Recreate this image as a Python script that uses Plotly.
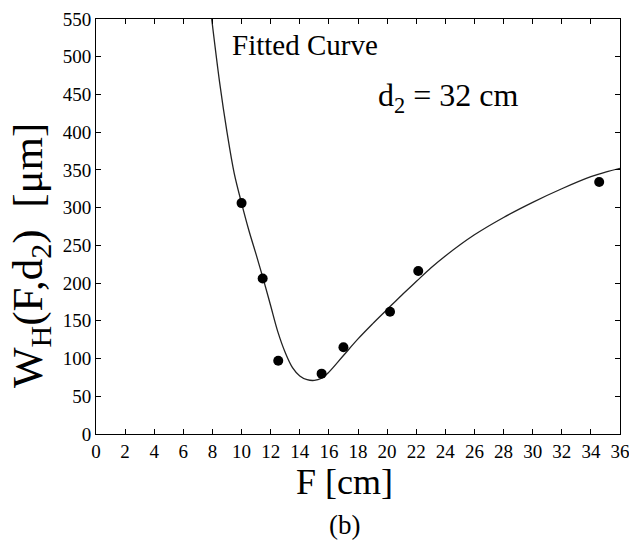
import plotly.graph_objects as go

# measured data points
F_pts = [10.0, 11.45, 12.52, 15.5, 17.0, 20.2, 22.14, 34.57]
W_pts = [306, 206, 97, 80, 115, 162, 216, 334]

# fitted curve
F_fit = [7.95, 8.5, 9.0, 9.5, 10.0, 10.5, 11.0, 11.5, 12.0, 12.5, 13.0, 13.5, 14.0,
         14.5, 15.0, 15.5, 16.0, 17.0, 18.0, 19.0, 20.0, 21.0, 22.0, 23.0, 24.0,
         26.0, 28.0, 30.0, 32.0, 34.0, 35.0, 36.0]
W_fit = [550, 465, 400, 345, 306, 270, 238, 205, 170, 135, 108, 88, 77,
         72, 71, 74, 82, 104, 126, 146, 165, 184, 202, 220, 236,
         264, 287, 307, 325, 341, 347, 352]

x_ticks = list(range(0, 37, 2))
y_ticks = list(range(0, 551, 50))

FONT = "Liberation Serif"

fig = go.Figure()
fig.add_trace(go.Scatter(x=F_fit, y=W_fit, mode="lines", line=dict(color="#222", width=1.3, shape="spline"),
                         showlegend=False, hoverinfo="skip"))
fig.add_trace(go.Scatter(x=F_pts, y=W_pts, mode="markers", marker=dict(color="black", size=10),
                         showlegend=False))

axis_common = dict(showgrid=False, zeroline=False, showline=True, linecolor="black", linewidth=1,
                   mirror="ticks", ticks="inside", ticklen=5, tickcolor="black", automargin=False,
                   ticklabeloverflow="allow",
                   tickfont=dict(family=FONT, size=19, color="black"))
fig.update_xaxes(range=[0, 36], tickvals=x_ticks, ticktext=[str(v) for v in x_ticks], **axis_common)
fig.update_yaxes(range=[0, 550], tickvals=y_ticks, ticktext=[str(v) for v in y_ticks], **axis_common)

fig.update_layout(
    width=629, height=540,
    margin=dict(l=96, r=9, t=19, b=106),
    plot_bgcolor="white", paper_bgcolor="white",
    font=dict(family=FONT, color="black"),
    annotations=[
        dict(text="Fitted Curve", x=0.256, y=0.937, xref="paper", yref="paper", showarrow=False,
             xanchor="left", yanchor="middle", font=dict(size=29)),
        dict(text="d<sub>2</sub> = 32 cm", x=0.535, y=0.812, xref="paper", yref="paper", showarrow=False,
             xanchor="left", yanchor="middle", font=dict(size=32)),
        dict(text="W<sub>H</sub>(F,d<sub>2</sub>)  [μm]", x=-0.125, y=0.43, xref="paper", yref="paper",
             showarrow=False, textangle=-90, xanchor="center", yanchor="middle", font=dict(size=43)),
        dict(text="F [cm]", x=0.475, y=-0.115, xref="paper", yref="paper", showarrow=False,
             xanchor="center", yanchor="middle", font=dict(size=36)),
        dict(text="(b)", x=0.475, y=-0.219, xref="paper", yref="paper", showarrow=False,
             xanchor="center", yanchor="middle", font=dict(size=27)),
    ],
)

fig.write_html("out.html", post_script="document.body.style.margin='0';",
               config={"displayModeBar": False})
